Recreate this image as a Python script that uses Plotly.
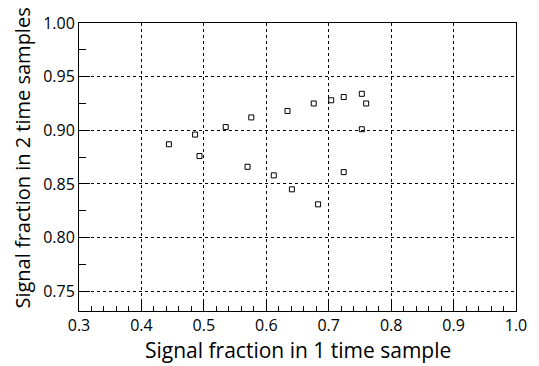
import plotly.graph_objects as go

x_vals = [0.444, 0.486, 0.493, 0.535, 0.570, 0.576, 0.612, 0.634, 0.641, 0.676,
          0.683, 0.704, 0.724, 0.724, 0.753, 0.760, 0.753]
y_vals = [0.887, 0.896, 0.876, 0.903, 0.866, 0.912, 0.858, 0.918, 0.845, 0.925,
          0.831, 0.928, 0.931, 0.861, 0.934, 0.925, 0.901]

x_ticks = [0.3, 0.4, 0.5, 0.6, 0.7, 0.8, 0.9, 1.0]
x_ticklabels = ["0.3", "0.4", "0.5", "0.6", "0.7", "0.8", "0.9", "1.0"]
y_ticks = [0.75, 0.80, 0.85, 0.90, 0.95, 1.00]
y_ticklabels = ["0.75", "0.80", "0.85", "0.90", "0.95", "1.00"]
x_title = "Signal fraction in 1 time sample"
y_title = "Signal fraction in 2 time samples"

font_family = "Open Sans"

fig = go.Figure()
fig.add_trace(go.Scatter(
    x=x_vals, y=y_vals, mode="markers",
    marker=dict(symbol="square-open", size=5, color="black", line=dict(width=1, color="black")),
    showlegend=False,
))

axis_common = dict(
    showline=True, linecolor="black", linewidth=1, mirror=True,
    showgrid=True, gridcolor="black", gridwidth=1, griddash="3px,3px",
    zeroline=False, ticks="inside", tickcolor="black",
    tickfont=dict(family=font_family, size=16, color="black"),
)

fig.update_xaxes(
    range=[0.3, 1.0], tickvals=x_ticks, ticktext=x_ticklabels, ticklen=9,
    minor=dict(ticks="inside", ticklen=5, dtick=0.02, tick0=0.3, tickcolor="black", showgrid=False),
    **axis_common,
)
fig.update_yaxes(
    range=[0.7316, 1.0], tickvals=y_ticks, ticktext=y_ticklabels, ticklen=11,
    minor=dict(ticks="inside", ticklen=7, dtick=0.025, tick0=0.725, tickcolor="black", showgrid=False),
    **axis_common,
)

fig.add_annotation(
    text=x_title, xref="paper", yref="paper", x=0.5, y=-0.135,
    xanchor="center", yanchor="middle", showarrow=False,
    font=dict(family=font_family, size=21, color="black"),
)
fig.add_annotation(
    text=y_title, xref="paper", yref="paper", x=-0.130, y=0.530,
    xanchor="center", yanchor="middle", textangle=-90, showarrow=False,
    font=dict(family=font_family, size=20, color="black"),
)

fig.update_layout(
    width=539, height=366,
    margin=dict(l=79, r=22, t=15, b=55),
    plot_bgcolor="white", paper_bgcolor="white",
)

fig.write_html("out.html")
